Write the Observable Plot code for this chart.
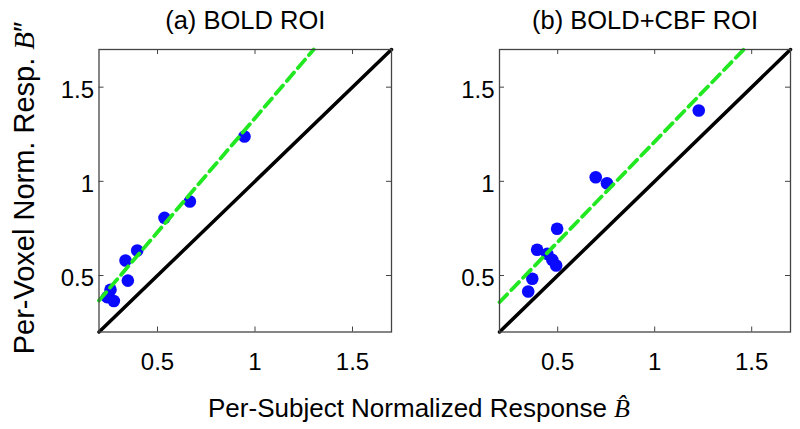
<!DOCTYPE html>
<html>
<head>
<meta charset="utf-8">
<script src="https://cdn.jsdelivr.net/npm/d3@7"></script>
<script src="https://cdn.jsdelivr.net/npm/@observablehq/plot@0.6"></script>
<style>
  html, body { margin: 0; padding: 0; background: #fff; }
  #wrap { position: relative; width: 800px; height: 429px; overflow: hidden; font-family: "Liberation Sans", Arial, Helvetica, sans-serif; }
  .panel { position: absolute; top: 0; }
  .lab { position: absolute; white-space: nowrap; color: #000; }
  .mb { font-family: "Liberation Serif", "Times New Roman", serif; font-style: italic; }
</style>
</head>
<body>
<div id="wrap"></div>
<script>
// ---- data ----
const panelTitles = ["(a) BOLD ROI", "(b) BOLD+CBF ROI"];
const axisDomain = [0.2, 1.7];
const tickValues = [0.5, 1, 1.5];
const tickLabels = ["0.5", "1", "1.5"];

// (a) BOLD ROI: per-subject (x) vs per-voxel (y)
const boldX = [0.946, 0.666, 0.536, 0.396, 0.336, 0.348, 0.259, 0.242, 0.276];
const boldY = [1.238, 0.893, 0.806, 0.633, 0.580, 0.473, 0.424, 0.385, 0.365];
// (b) BOLD+CBF ROI
const cbfX = [1.227, 0.696, 0.754, 0.497, 0.394, 0.446, 0.472, 0.492, 0.369, 0.348];
const cbfY = [1.376, 1.022, 0.990, 0.748, 0.637, 0.615, 0.583, 0.553, 0.483, 0.415];

// identity line endpoints and fitted (dashed) line endpoints
const identityX = [0.2, 1.7];
const identityY = [0.2, 1.7];
const boldFitX = [0.2, 1.301];
const boldFitY = [0.367, 1.7];
const cbfFitX = [0.2, 1.459];
const cbfFitY = [0.358, 1.7];

const FONT = '"Liberation Sans", Arial, Helvetica, sans-serif';

function panel(title, px, py, fx, fy, mLeft, mRight) {
  const W = 400, H = 429, mTop = 49, mBottom = 97.5;
  const fw = W - mLeft - mRight, fh = H - mTop - mBottom;
  const pts = px.map((x, i) => ({x, y: py[i]}));
  const idl = identityX.map((x, i) => ({x, y: identityY[i]}));
  const fit = fx.map((x, i) => ({x, y: fy[i]}));
  const tick = 5;
  const grey = "#444";
  return Plot.plot({
    width: W, height: H,
    marginLeft: mLeft, marginRight: mRight, marginTop: mTop, marginBottom: mBottom,
    style: {fontFamily: FONT, background: "transparent", color: "#000"},
    x: {domain: axisDomain},
    y: {domain: axisDomain},
    marks: [
      Plot.line(idl, {x: "x", y: "y", stroke: "#000", strokeWidth: 3.5}),
      Plot.dot(pts, {x: "x", y: "y", r: 6.3, fill: "#0a0aff", stroke: "none"}),
      Plot.line(fit, {x: "x", y: "y", stroke: "#22e822", strokeWidth: 3.8, strokeDasharray: "11,6"}),
      Plot.frame({stroke: grey, strokeWidth: 1.3}),
      // inward ticks on all four sides
      Plot.tickX(tickValues, {x: d => d, stroke: grey, insetTop: fh - tick}),
      Plot.tickX(tickValues, {x: d => d, stroke: grey, insetBottom: fh - tick}),
      Plot.tickY(tickValues, {y: d => d, stroke: grey, insetRight: fw - tick}),
      Plot.tickY(tickValues, {y: d => d, stroke: grey, insetLeft: fw - tick}),
      Plot.axisX(tickValues, {tickSize: 0, tickPadding: 21, fontSize: 24, label: null,
        tickFormat: (d) => tickLabels[tickValues.indexOf(d)], fill: "#000"}),
      Plot.axisY(tickValues, {tickSize: 0, tickPadding: 5, fontSize: 24, label: null, dy: 3,
        tickFormat: (d) => tickLabels[tickValues.indexOf(d)], fill: "#000"}),
      Plot.text([title], {text: d => d, frameAnchor: "top", lineAnchor: "middle", dy: -29,
        fontSize: 25.5, fill: "#000"})
    ]
  });
}

const wrap = document.getElementById("wrap");
const a = panel(panelTitles[0], boldX, boldY, boldFitX, boldFitY, 98.5, 9);
a.classList.add("panel"); a.style.left = "0px";
const b = panel(panelTitles[1], cbfX, cbfY, cbfFitX, cbfFitY, 99, 10);
b.classList.add("panel"); b.style.left = "400px";
wrap.appendChild(a);
wrap.appendChild(b);

const xl = document.createElement("div");
xl.className = "lab";
xl.style.fontSize = "26px";
xl.style.lineHeight = "26px";
xl.innerHTML = 'Per-Subject Normalized Response <span class="mb">B&#770;</span>';
xl.style.left = "419px";
xl.style.top = "395px";
xl.style.transform = "translateX(-50%)";
wrap.appendChild(xl);

const yl = document.createElement("div");
yl.className = "lab";
yl.style.fontSize = "29px";
yl.style.lineHeight = "29px";
yl.innerHTML = 'Per-Voxel Norm. Resp. <span class="mb">B</span>&#8243;';
yl.style.left = "24px";
yl.style.top = "188px";
yl.style.transform = "translate(-50%, -50%) rotate(-90deg)";
wrap.appendChild(yl);
</script>
</body>
</html>
